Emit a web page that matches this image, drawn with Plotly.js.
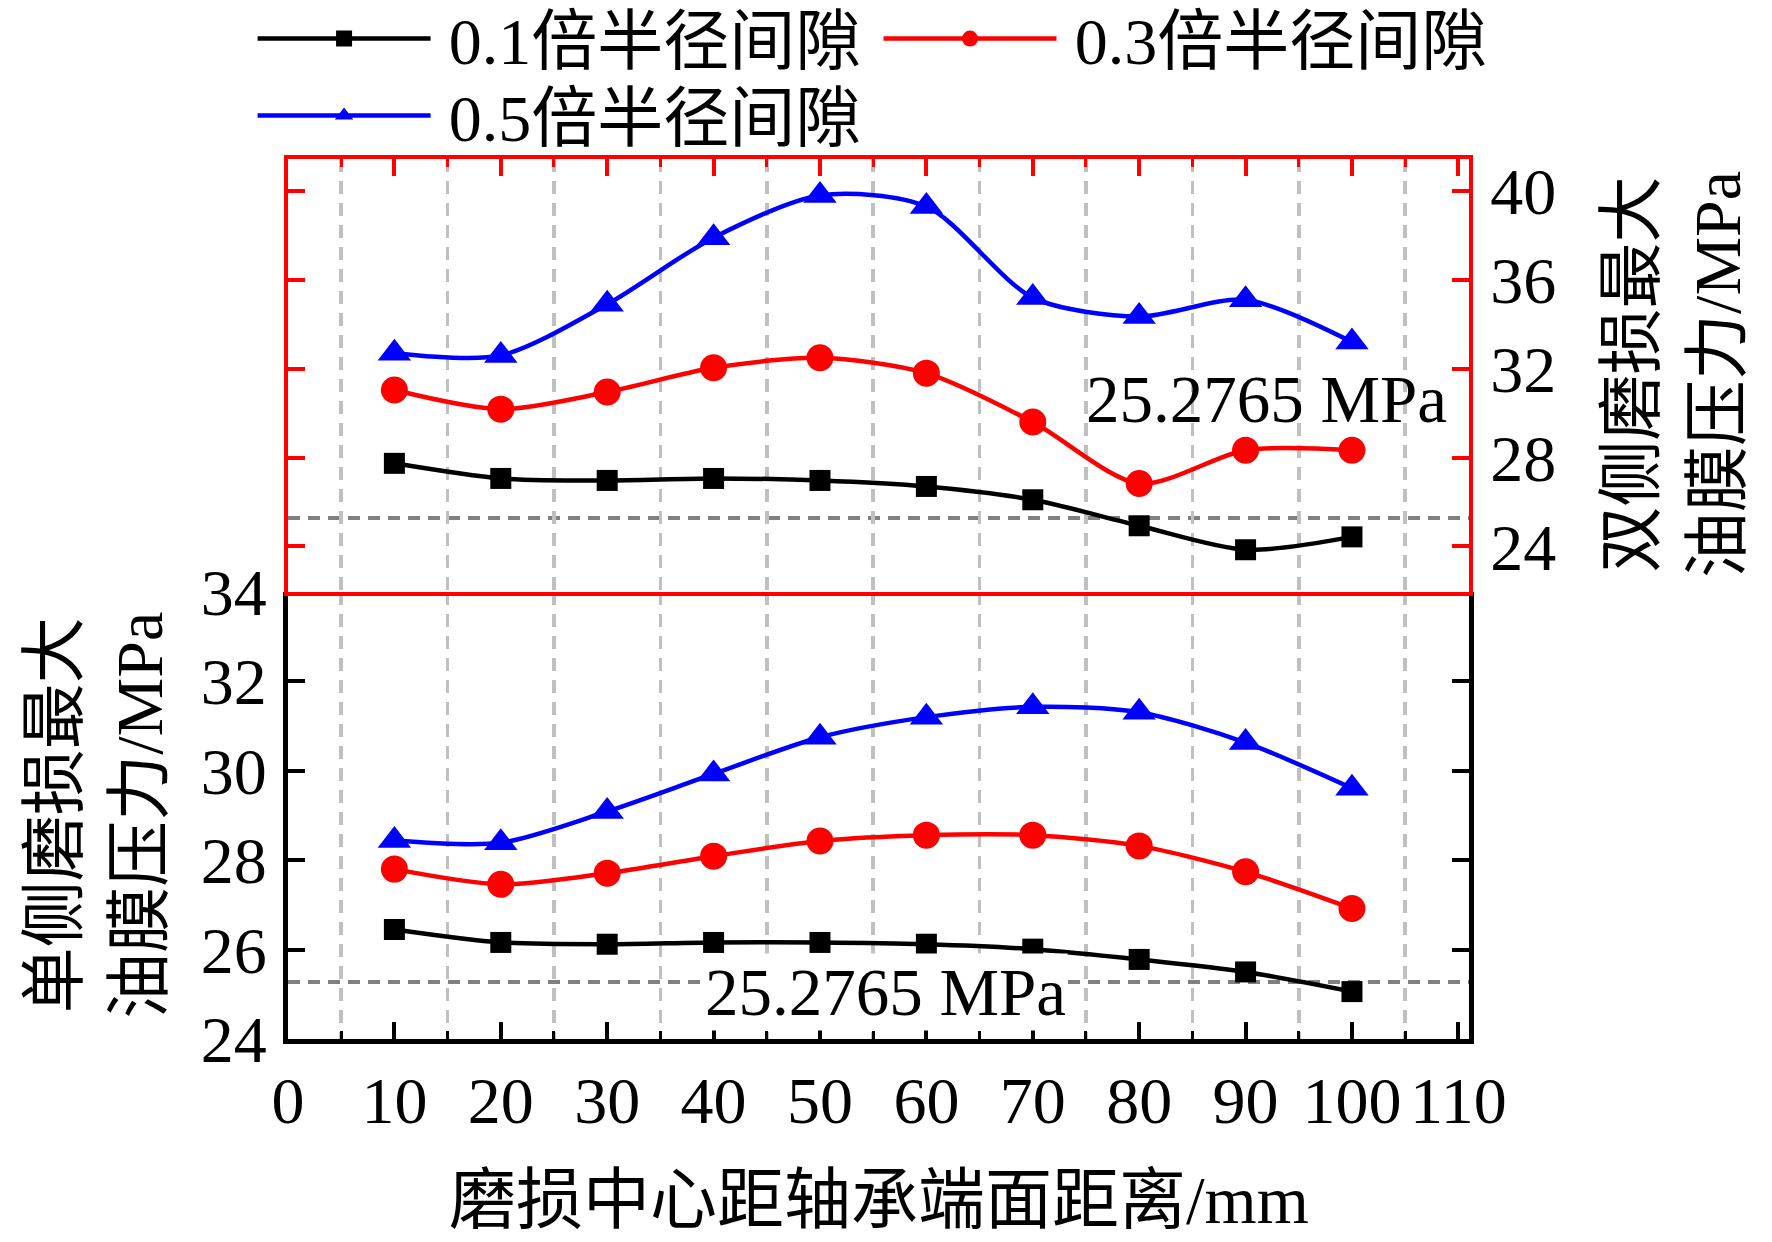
<!DOCTYPE html>
<html>
<head>
<meta charset="utf-8">
<script src="https://cdn.plot.ly/plotly-3.0.1.min.js"></script>
<style>
  html, body { margin: 0; padding: 0; background: #fff; }
  #chart { width: 1772px; height: 1242px; }
</style>
</head>
<body>
<div id="chart"></div>
<script>
// wear centre distance from bearing end face (mm)
var xPos = [10, 20, 30, 40, 50, 60, 70, 80, 90, 100];

// double-sided wear, max oil film pressure (MPa) - top panel
var double01 = [27.74, 27.06, 26.97, 27.06, 26.97, 26.70, 26.10, 24.93, 23.85, 24.43];
var double03 = [31.04, 30.18, 30.95, 32.04, 32.49, 31.80, 29.60, 26.83, 28.33, 28.33];
var double05 = [32.70, 32.60, 34.90, 37.90, 39.80, 39.30, 35.20, 34.35, 35.10, 33.20];

// single-sided wear, max oil film pressure (MPa) - bottom panel
var single01 = [26.45, 26.16, 26.12, 26.16, 26.16, 26.12, 26.01, 25.78, 25.50, 25.06];
var single03 = [27.80, 27.46, 27.71, 28.09, 28.43, 28.56, 28.56, 28.32, 27.74, 26.92];
var single05 = [28.44, 28.39, 29.09, 29.93, 30.75, 31.20, 31.43, 31.31, 30.63, 29.61];

var seriesNames = ['0.1倍半径间隙', '0.3倍半径间隙', '0.5倍半径间隙'];
var refValue = 25.2765;

var FONT = 'Liberation Serif, Times New Roman, Noto Sans CJK SC, serif';
var legendIds = ['legend', 'legend2', 'legend3'];

function series(y, idx, xa, ya, show) {
  var colors = ['#000000', '#ff0000', '#0000ff'];
  var symbols = ['square', 'circle', 'triangle-up'];
  var sizes = [21, 27, 29];
  return {
    x: xPos, y: y, xaxis: xa, yaxis: ya,
    type: 'scatter', mode: 'lines+markers',
    name: '\u2009' + seriesNames[idx],
    legendgroup: 'g' + idx,
    legend: legendIds[idx],
    showlegend: show,
    line: { color: colors[idx], width: 4.5, shape: 'spline', smoothing: 0.8 },
    marker: { color: colors[idx], symbol: symbols[idx], size: sizes[idx] }
  };
}

var data = [
  series(double01, 0, 'x2', 'y2', true),
  series(double03, 1, 'x2', 'y2', true),
  series(double05, 2, 'x2', 'y2', true),
  series(single01, 0, 'x', 'y', false),
  series(single03, 1, 'x', 'y', false),
  series(single05, 2, 'x', 'y', false)
];

var gridMinor = { dtick: 5, tick0: 0, ticks: 'inside', ticklen: 8, tickwidth: 3,
  showgrid: true, gridcolor: '#c0c0c0', griddash: '13px,9px', gridwidth: 3.5 };

function legendBox(x, y) {
  return {
    x: x, y: y, xanchor: 'left', yanchor: 'top',
    orientation: 'v', itemwidth: 173, itemsizing: 'trace',
    bgcolor: 'rgba(0,0,0,0)', font: { size: 66 }
  };
}

var layout = {
  width: 1772, height: 1242,
  margin: { l: 288, r: 303, t: 159, b: 203, autoexpand: false },
  paper_bgcolor: '#ffffff', plot_bgcolor: '#ffffff',
  font: { family: FONT, size: 64, color: '#000' },
  xaxis: {
    domain: [0, 1], anchor: 'y', range: [0, 111.0],
    tickmode: 'linear', tick0: 0, dtick: 10,
    ticks: 'inside', ticklen: 17, tickwidth: 4, tickcolor: '#000',
    showline: true, linewidth: 5, linecolor: '#000', mirror: false,
    showgrid: false, zeroline: false,
    ticklabelstandoff: 0,
    tickfont: { size: 66 },
    minor: Object.assign({ tickcolor: '#000' }, gridMinor)
  },
  yaxis: {
    domain: [0, 0.508], anchor: 'x', range: [24, 34],
    tickmode: 'linear', tick0: 24, dtick: 2,
    ticks: 'inside', ticklen: 17, tickwidth: 4, tickcolor: '#000',
    showline: true, linewidth: 5, linecolor: '#000', mirror: 'ticks',
    showgrid: false, zeroline: false,
    ticklabelstandoff: 3,
    tickfont: { size: 66 }
  },
  xaxis2: {
    domain: [0, 1], anchor: 'y2', side: 'top', range: [0, 111.0],
    tickmode: 'linear', tick0: 0, dtick: 10,
    ticks: 'inside', ticklen: 17, tickwidth: 4, tickcolor: '#ff0000',
    showticklabels: false,
    showline: true, linewidth: 4, linecolor: '#ff0000', mirror: true,
    showgrid: false, zeroline: false,
    minor: Object.assign({ tickcolor: '#ff0000' }, gridMinor)
  },
  yaxis2: {
    domain: [0.508, 1], anchor: 'x2', side: 'right', range: [21.95, 41.44],
    tickvals: [24, 28, 32, 36, 40],
    ticks: 'inside', ticklen: 17, tickwidth: 4, tickcolor: '#ff0000',
    showline: true, linewidth: 4, linecolor: '#ff0000', mirror: 'ticks',
    showgrid: false, zeroline: false,
    ticklabelstandoff: 4,
    tickfont: { size: 66, color: '#000' }
  },
  shapes: [
    { type: 'line', xref: 'paper', x0: 0, x1: 1, yref: 'y', y0: refValue, y1: refValue,
      line: { color: '#808080', width: 4, dash: '12px,8px' }, layer: 'below' },
    { type: 'line', xref: 'paper', x0: 0, x1: 1, yref: 'y2', y0: refValue, y1: refValue,
      line: { color: '#808080', width: 4, dash: '12px,8px' }, layer: 'below' }
  ],
  annotations: [
    { text: '25.2765 MPa', xref: 'x', yref: 'y', x: 56.2, y: 25.05,
      showarrow: false, font: { size: 67 }, bgcolor: '#ffffff',
      xanchor: 'center', yanchor: 'middle' },
    { text: '25.2765 MPa', xref: 'x2', yref: 'y2', x: 92.0, y: 30.65,
      showarrow: false, font: { size: 67 },
      xanchor: 'center', yanchor: 'middle' },
    { text: '单侧磨损最大<br>油膜压力/MPa', xref: 'paper', yref: 'paper',
      x: -0.162, y: 0.2545, textangle: -90, showarrow: false,
      font: { size: 66 }, xanchor: 'center', yanchor: 'middle' },
    { text: '双侧磨损最大<br>油膜压力/MPa', xref: 'paper', yref: 'paper',
      x: 1.1744, y: 0.7557, textangle: -90, showarrow: false,
      font: { size: 66 }, xanchor: 'center', yanchor: 'middle' },
    { text: '磨损中心距轴承端面距离/mm', xref: 'paper', yref: 'paper',
      x: 0.5, y: -0.183, showarrow: false,
      font: { size: 67 }, xanchor: 'center', yanchor: 'middle' }
  ],
  legend: legendBox(-0.03, 1.193),
  legend2: legendBox(0.50, 1.193),
  legend3: legendBox(-0.03, 1.1057)
};

Plotly.newPlot('chart', data, layout, { displayModeBar: false, staticPlot: true });
</script>
</body>
</html>
